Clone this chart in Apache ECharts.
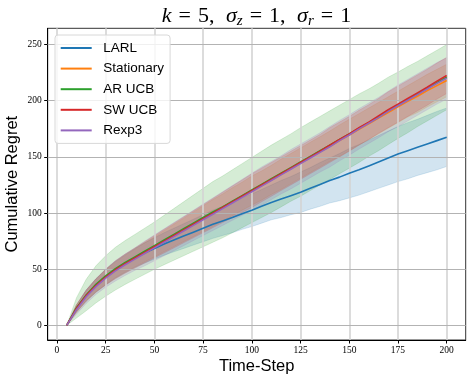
<!DOCTYPE html>
<html><head><meta charset="utf-8">
<script src="https://cdn.jsdelivr.net/npm/echarts@6/dist/echarts.min.js"></script>
<style>html,body{margin:0;padding:0;background:#fff}#c{width:473px;height:382px}</style>
</head><body><div id="c"></div>
<script>
const steps = [5,10,15,20,25,30,35,40,45,50,55,60,65,70,75,80,85,90,95,100,105,110,115,120,125,130,135,140,145,150,155,160,165,170,175,180,185,190,195,200];
const xTicks = [0,25,50,75,100,125,150,175,200];
const yTicks = [0,50,100,150,200,250];
const names = ['LARL','Stationary','AR UCB','SW UCB','Rexp3'];
const colors = ['#1f77b4','#ff7f0e','#2ca02c','#d62728','#9467bd'];

const larlMean = [0,15,26.5,35.5,43,49.5,55,60,64.5,68.5,72.5,76,79.5,83,86.5,90,93,96,99.5,102.5,106,109.5,112.5,115.5,118.5,122,125.5,129,132,135.5,138.5,142,145.5,149,152.5,155.5,158.5,161.5,164.5,167.5];
const stationaryMean = [0,15,26.5,35.5,43,49.5,55,60,65,70,75,80,85,90,95,100,105,110,115,120,124.5,129.5,134.5,139.5,144.5,149.5,154.5,159.5,164.5,169.5,174.5,179.5,184.5,189.5,194.5,199.5,204,209,213.5,218];
const arucbMean = [0,15.5,27,36.5,44,50.5,56,61,66,71,76,81,86,91,96,101,105.5,110.5,115.5,120.5,125.5,130.5,135.5,140.5,145.5,150.5,155.5,160.5,165.5,170.5,175.5,180.5,185.5,191,196,201,206,211,216,221];
const swucbMean = [0,15,26.5,35.5,43,49.5,55,60,65,70,75,80,85,90,95,100,105,110,115,120,125,130,135,140,145,150,155,160.5,165.5,170.5,176,181,186.5,192,197,202,207,212,217.5,222.5];
const rexp3Mean = [0,14,25.5,34.5,42,48.5,54,59,64,69,74,79,84,89,94,99,104,109,114,119,124,129,134,139,144,149,154,159,164.5,169.5,175,180,185,190.5,195.5,200.5,205.5,210.5,215.5,220];

const larlSpread = [0,3,5,6,7,7.5,8,8.5,9,9.5,10,10.5,11,11.5,12,12.5,13,13.5,14,14.5,15,15.5,16.5,17,18,18.5,19.5,20,21,22,22.5,23,23.5,24,24.5,25,25,25.5,26,26];
const stationarySpread = [0,3,4.5,5.5,6.5,7,7.5,8,8.5,9,9.5,10,10.5,11,11.5,12,12,12.5,12.5,13,13,13,13.5,13.5,13.5,13.5,13.5,13.5,14,14,14,14,14,14,14,14,14.5,14.5,14.5,14.5];
const arucbSpread = [0,9,14,16.5,18,19,19.5,20,20.5,21,22,23,24,25,26,27,27.5,28,28.5,29,29.5,30,30,30,30.5,30.5,30.5,30.5,30.5,30.5,30.5,30,30,30,29.5,29.5,29,29,29,29];
const swucbSpread = [0,3.5,5,6,7,8,8.5,9,9.5,10,10.5,11,11.5,12,12.5,13,13.5,14,14.5,15,15,15,15,15,15,15,15,15.5,15.5,15.5,15.5,15.5,15.5,16,16,16,16,16,16,16];
const rexp3Spread = [0,4,6,7,8,9,9.5,10,11,11.5,12,12.5,13,13.5,14,14.5,15,15.5,16,16.5,17,17,17,17.5,17.5,17.5,17.5,18,18,18,18,18,18,18,18.5,18.5,18.5,18.5,18.5,18.5];

const means = [larlMean, stationaryMean, arucbMean, swucbMean, rexp3Mean];
const spreads = [larlSpread, stationarySpread, arucbSpread, swucbSpread, rexp3Spread];

function hexA(h, a){const r=parseInt(h.slice(1,3),16),g=parseInt(h.slice(3,5),16),b=parseInt(h.slice(5,7),16);return `rgba(${r},${g},${b},${a})`;}

const series = [];
names.forEach((n,k)=>{
  const m = means[k], s = spreads[k];
  series.push({
    type:'custom', name:'band_'+k, silent:true, z:1, clip:true,
    data:[[steps[0], m[0]]], encode:{x:0, y:1},
    renderItem:(params, api)=>{
      if (params.dataIndex !== 0) return;
      const pts = [];
      for (let i=0;i<steps.length;i++) pts.push(api.coord([steps[i], m[i]-s[i]]));
      for (let i=steps.length-1;i>=0;i--) pts.push(api.coord([steps[i], m[i]+s[i]]));
      return {type:'polygon', shape:{points:pts},
        style:{fill:hexA(colors[k],0.2), stroke:hexA(colors[k],0.2), lineWidth:0.8}};
    }
  });
});
series.push({
  type:'line', name:'grid', data:[], silent:true, z:2,
  markLine:{
    silent:true, symbol:'none', z:2, animation:false, label:{show:false},
    data: xTicks.map(v=>({xAxis:v, lineStyle:{color:'#d4d4d4', width:1.6, type:'solid'}}))
      .concat(yTicks.map(v=>({yAxis:v, lineStyle:{color:'#b3b3b3', width:1, type:'solid'}})))
  }
});
names.forEach((n,k)=>{
  series.push({
    type:'line', name:n, symbol:'none', z:3, color:colors[k],
    lineStyle:{color:colors[k], width:1.6},
    data: steps.map((x,i)=>[x, means[k][i]])
  });
});

const chart = echarts.init(document.getElementById('c'), null, {renderer:'canvas'});
chart.setOption({
  animation:false,
  backgroundColor:'#fff',
  grid:{left:47.7, right:7.3, top:28.3, bottom:42, containLabel:false, outerBoundsMode:'none',
        show:true, borderColor:'#333', borderWidth:1, backgroundColor:'transparent'},
  xAxis:{
    type:'value', min:-4.75, max:209.75,
    name:'Time-Step', nameLocation:'middle', nameGap:18, nameMoveOverlap:false,
    nameTextStyle:{fontFamily:'Liberation Sans', fontSize:16.5, color:'#000'},
    axisLine:{show:true, onZero:false, lineStyle:{color:'#000', width:1}},
    axisTick:{show:true, length:3.5, customValues:xTicks, lineStyle:{color:'#000'}},
    axisLabel:{customValues:xTicks, fontFamily:'Liberation Serif', fontSize:9.5, color:'#000', margin:5},
    splitLine:{show:false}
  },
  yAxis:{
    type:'value', min:-13, max:264.5,
    name:'Cumulative Regret', nameLocation:'middle', nameGap:27, nameMoveOverlap:false,
    nameTextStyle:{fontFamily:'Liberation Sans', fontSize:16.5, color:'#000'},
    axisLine:{show:true, onZero:false, lineStyle:{color:'#000', width:1}},
    axisTick:{show:true, length:3.5, customValues:yTicks, lineStyle:{color:'#000'}},
    axisLabel:{customValues:yTicks, fontFamily:'Liberation Serif', fontSize:9.5, color:'#000', margin:6},
    splitLine:{show:false}
  },
  legend:{
    data:names, orient:'vertical', left:55, top:35, icon:'rect', itemWidth:31, itemHeight:2,
    itemGap:6.6, padding:[6,6,6,5.7],
    backgroundColor:'rgba(255,255,255,0.8)', borderColor:'#d8d8d8', borderWidth:1, borderRadius:3,
    textStyle:{fontFamily:'Liberation Sans', fontSize:13.5, color:'#000', lineHeight:14, padding:[0,0,0,6.6]},
    selectedMode:false
  },
  graphic:[{
    type:'text', x:256.5, y:16, z:10,
    style:{
      text:'{i|k}{e|=}{n|5,}{sp| }{i|σ}{s|z}{e|=}{n|1,}{sp| }{i|σ}{s|r}{e|=}{n|1}',
      font:'22px "Liberation Serif"', fill:'#000', align:'center', verticalAlign:'middle',
      rich:{
        i:{fontFamily:'Liberation Serif', fontStyle:'italic', fontSize:22},
        n:{fontFamily:'Liberation Serif', fontSize:22},
        e:{fontFamily:'Liberation Serif', fontSize:22, padding:[0,7,0,7]},
        sp:{fontFamily:'Liberation Serif', fontSize:22, padding:[0,3,0,3]},
        s:{fontFamily:'Liberation Serif', fontStyle:'italic', fontSize:15, padding:[11,0,0,0]}
      }
    }
  }],
  series: series
});
</script></body></html>
